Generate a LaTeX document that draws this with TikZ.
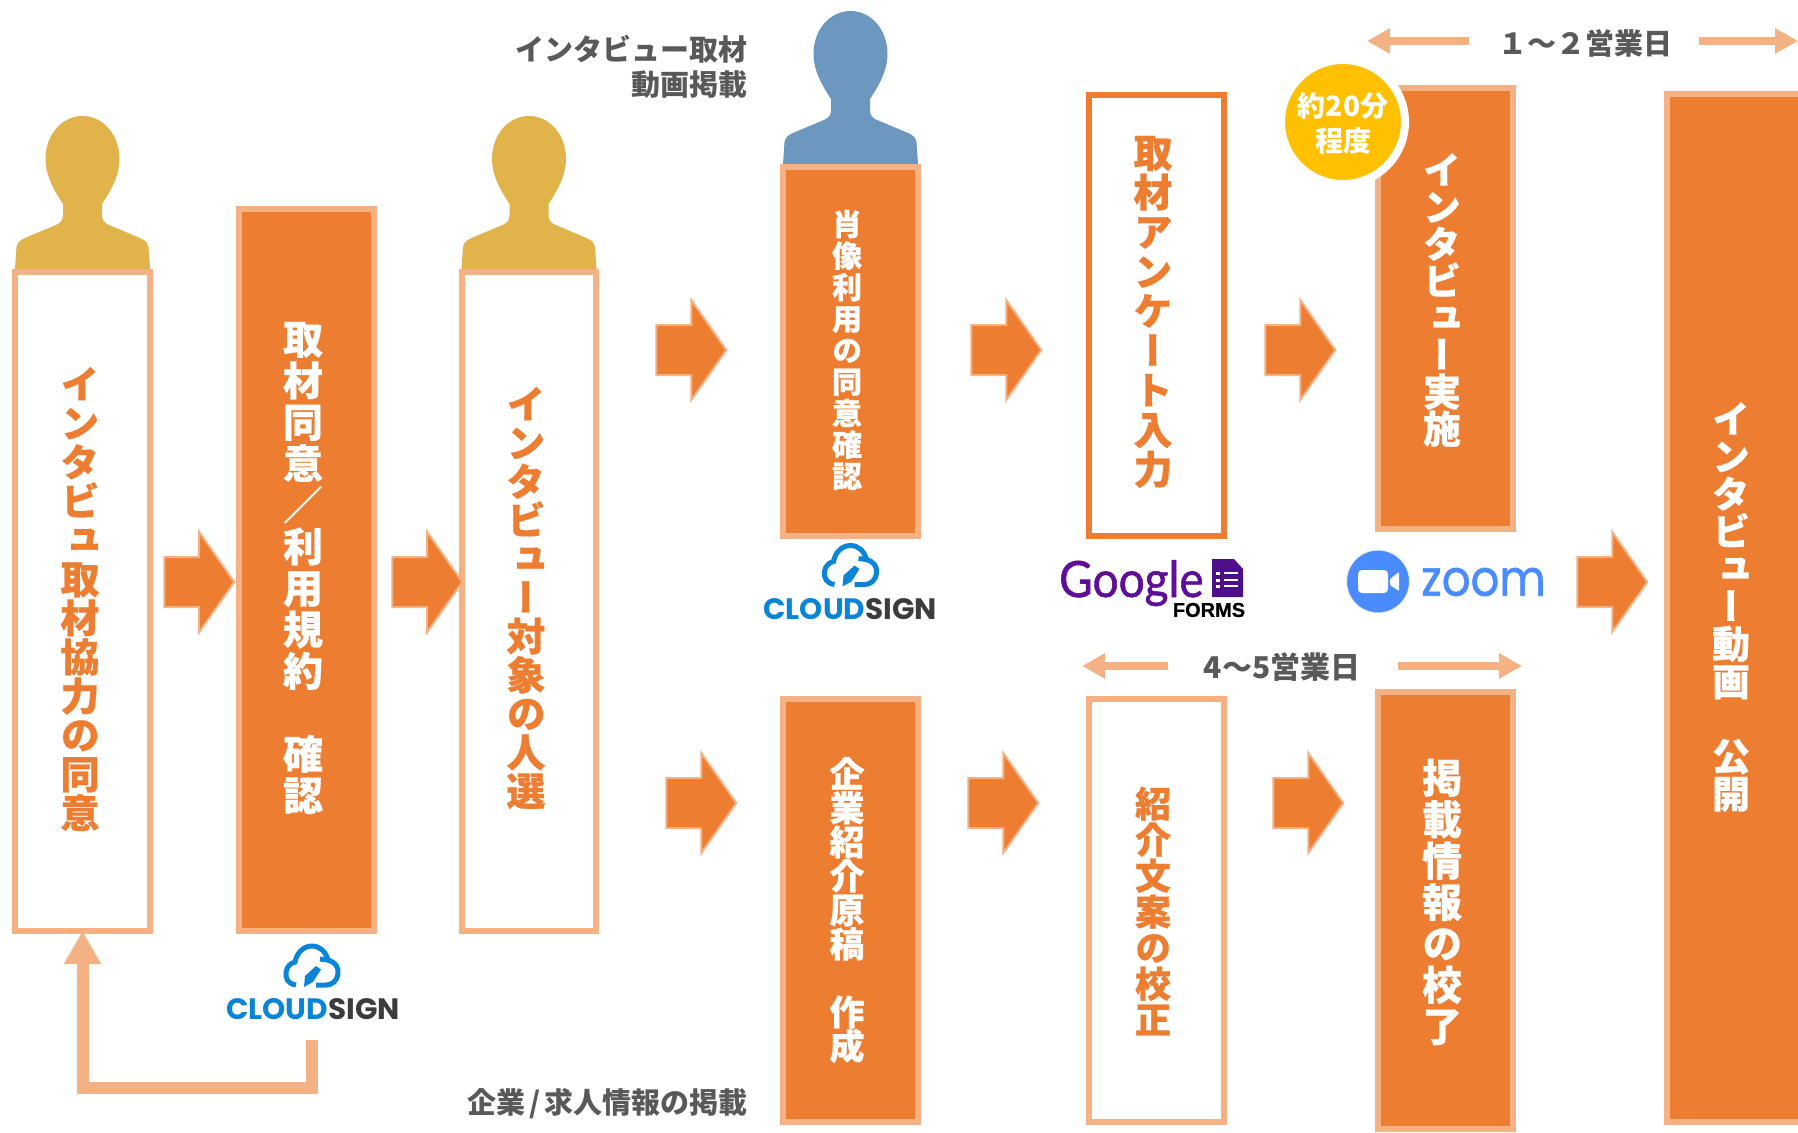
\documentclass[tikz,border=0pt]{standalone}
\usepackage{fontspec}
\usetikzlibrary{arrows.meta,shapes.arrows}
\newfontfamily\jp{Noto Sans CJK JP}
\newfontfamily\jpv[RawFeature=+vert,FakeBold=0.5]{Noto Sans CJK JP}
\newfontfamily\popp{Poppins}
\newfontfamily\zoomf[FakeBold=1.2]{Poppins}
\newfontfamily\lat[FakeBold=1.2]{Lato}
\newfontfamily\lib[FakeBold=0.8]{Liberation Sans}
\definecolor{org}{HTML}{ED7D31}
\definecolor{lite}{HTML}{F4B183}
\definecolor{gold}{HTML}{E0B44B}
\definecolor{steel}{HTML}{6C97BF}
\definecolor{ink}{HTML}{595959}
\definecolor{amber}{HTML}{FFC000}
\definecolor{csblue}{HTML}{0A84D6}
\definecolor{csgray}{HTML}{3C3C3C}
\definecolor{zblue}{HTML}{4A8CFF}
\definecolor{gpurple}{HTML}{5F0F96}
\definecolor{fpurple}{HTML}{4E1088}
\newlength\vw
\def\slashch{{\jp\bfseries ／}}
\def\vcharsloop#1{\ifx#1\relax\else\hbox to \vw{\hss#1\hss}\expandafter\vcharsloop\fi}
\newcommand\vtext[3]{\fontsize{#1}{#2}\selectfont\vw=#1pt\vbox{\baselineskip=#2pt\lineskiplimit=-\maxdimen\vcharsloop#3\relax}}
\newcommand\personfig[3]{\fill[#3,shift={(#1,#2)}] (-67.5,0) -- (-66,-22) .. controls (-65,-27) and (-62,-29) .. (-57.5,-31) -- (-25.5,-44.5) .. controls (-21,-46.5) and (-19.5,-50) .. (-19.5,-54) -- (-19.5,-65) .. controls (-28,-78) and (-37,-93) .. (-37,-110) .. controls (-37,-135) and (-20,-153) .. (0,-153) .. controls (20,-153) and (37,-135) .. (37,-110) .. controls (37,-93) and (28,-78) .. (19.5,-65) -- (19.5,-54) .. controls (19.5,-50) and (21,-46.5) .. (25.5,-44.5) -- (57.5,-31) .. controls (62,-29) and (65,-27) .. (66,-22) -- (67.5,0) -- cycle;}
\newcommand\cloudlogo[2]{\begin{scope}[shift={(#1,#2)}]
\draw[csblue,line width=5,line cap=butt] (-16,20) .. controls (-24,19) and (-27,13) .. (-26,7) .. controls (-25,1) and (-21,-2) .. (-17,-3) .. controls (-15,-13) and (-8,-19) .. (0,-19) .. controls (8,-19) and (14,-13) .. (16,-5) -- (8,-6);
\draw[csblue,line width=5] (16,-5) .. controls (23,-3) and (27,2) .. (26,9) .. controls (25,16) and (20,20) .. (14,20) -- (4,20);
\fill[csblue] (4,1) -- (9,4.5) -- (1,17) -- (-8,22) -- (-7,11) -- cycle;
\end{scope}}
\tikzset{
 litebox/.style={rectangle,draw=lite,line width=6,fill=white,inner sep=0,outer sep=0},
 orgline/.style={rectangle,draw=org,line width=6,fill=white,inner sep=0,outer sep=0},
 solidbox/.style={rectangle,draw=lite,line width=6,fill=org,inner sep=0,outer sep=0},
 vw/.style={text=white,font=\jpv\bfseries,inner sep=0},
 vo/.style={text=org,font=\jpv\bfseries,inner sep=0},
 blockarr/.style={single arrow,draw=lite,line width=2,fill=org,minimum height=70,minimum width=98,single arrow head extend=25,single arrow tip angle=110,inner xsep=0,inner ysep=24,outer sep=0},
 span/.style={draw=lite,line width=8,-{Triangle[length=23,width=24]}},
 feedback/.style={draw=lite,line width=12,line join=miter,-{Triangle[length=33,width=35]}},
 lab/.style={text=ink,font=\jp\bfseries,inner sep=0},
}
\begin{document}
\begin{tikzpicture}[x=1pt,y=-1pt]
\useasboundingbox (0,0) rectangle (1798,1132);
\clip (0,0) rectangle (1798,1132);
\fill[white] (0,0) rectangle (1798,1132);
% persons
\personfig{82.5}{269}{gold}
\personfig{529}{269}{gold}
\personfig{850.5}{164}{steel}
% boxes
\node[litebox,minimum width=135,minimum height=659] (b1) at (82.5,601.5) {};
\node[solidbox,minimum width=135,minimum height=722] (b2) at (306.5,570) {};
\node[litebox,minimum width=134,minimum height=659] (b3) at (529,601.5) {};
\node[solidbox,minimum width=135,minimum height=369] (b4) at (850.5,351.5) {};
\node[orgline,minimum width=135,minimum height=441] (b5) at (1156.5,315.5) {};
\node[solidbox,minimum width=135,minimum height=441] (b6) at (1445.5,308.5) {};
\node[solidbox,minimum width=135,minimum height=1028] (b7) at (1734.5,608) {};
\node[solidbox,minimum width=135,minimum height=423] (b8) at (850.5,910.5) {};
\node[litebox,minimum width=135,minimum height=423] (b9) at (1156.5,910.5) {};
\node[solidbox,minimum width=135,minimum height=437] (b10) at (1445.5,910.5) {};
% column texts
\node[vo] (t1) at (80,599) {\vtext{39}{39}{インタビュ取材協力の同意}};
\node[vw] (t2) at (303,568) {\vtext{40}{41.5}{取材同意\slashch 利用規約　確認}};
\node[vo] (t3) at (526,598) {\vtext{39}{38.7}{インタビュー対象の人選}};
\node[vw] (t4) at (847,350) {\vtext{30}{31.5}{肖像利用の同意確認}};
\node[vo] (t5) at (1153,312) {\vtext{39}{39.6}{取材アンケート入力}};
\node[vw] (t6) at (1442,300) {\vtext{38}{37}{インタビュー実施}};
\node[vw] (t7) at (1731,607) {\vtext{38}{37.5}{インタビュー動画　公開}};
\node[vw] (t8) at (847,910) {\vtext{35}{34}{企業紹介原稿　作成}};
\node[vo] (t9) at (1153,911) {\vtext{36}{36}{紹介文案の校正}};
\node[vw] (t10) at (1442,902) {\vtext{40}{41.4}{掲載情報の校了}};
% block arrows
\node[blockarr] (a1) at (190.5,582) {};
\node[blockarr] (a2) at (418.5,582) {};
\node[blockarr] (a3) at (682.5,350) {};
\node[blockarr] (a4) at (997.5,350) {};
\node[blockarr] (a5) at (1291.5,350) {};
\node[blockarr] (a6) at (1603.5,582) {};
\node[blockarr] (a7) at (692.5,803) {};
\node[blockarr] (a8) at (994.5,803) {};
\node[blockarr] (a9) at (1299.5,803) {};
% feedback
\coordinate (fb0) at (312,1040);
\coordinate (fb1) at (312,1088);
\coordinate (fb2) at (b1.south |- fb1);
\draw[feedback] (fb0) -- (fb1) -- (fb2) -- (b1.south);
% span labels
\node[lab,anchor=east,align=right,font=\jp\bfseries\fontsize{29}{35}\selectfont] (l1) at (748,67) {インタビュー取材\\動画掲載};
\node[lab,anchor=east,font=\jp\bfseries\fontsize{29}{34}\selectfont] (l2) at (748,1104) {企業\kern4pt/\kern4pt 求人情報の掲載};
\node[lab,font=\jp\bfseries\fontsize{29}{34}\selectfont] (l3) at (1585,43) {１～２営業日};
\node[lab,font=\jp\bfseries\fontsize{30}{34}\selectfont] (l4) at (1282,667) {4～5営業日};
\coordinate (s1a) at (1469,41); \coordinate (s1b) at (1367,41);
\coordinate (s2a) at (1699,41); \coordinate (s2b) at (1798,41);
\coordinate (s3a) at (1168,666); \coordinate (s3b) at (1082,666);
\coordinate (s4a) at (1398,666); \coordinate (s4b) at (1522,666);
\draw[span] (s1a) -- (s1b);
\draw[span] (s2a) -- (s2b);
\draw[span] (s3a) -- (s3b);
\draw[span] (s4a) -- (s4b);
% badge
\node[circle,draw=white,line width=8,fill=amber,minimum size=124,inner sep=0,outer sep=0] (badge) at (1343,122) {};
\node[text=white,align=center,inner sep=0,font=\jp\bfseries\fontsize{28}{35}\selectfont] (badget) at (1343,123) {約20分\\程度};
% cloudsign logos
\cloudlogo{312}{965}
\node[inner sep=0,font=\popp\bfseries] (cs1) at (313,1009.5) {\fontsize{29.5}{30}\selectfont\textcolor{csblue}{CLOUD}\textcolor{csgray}{\popp SIGN}};
\cloudlogo{850.5}{564.5}
\node[inner sep=0,font=\popp\bfseries] (cs2) at (850,609.5) {\fontsize{29.5}{30}\selectfont\textcolor{csblue}{CLOUD}\textcolor{csgray}{\popp SIGN}};
% google forms
\node[inner sep=0,font=\lat,text=gpurple,xscale=0.92,transform shape,anchor=base west] (gf) at (1059,597) {\fontsize{50}{50}\selectfont Google};
\fill[fpurple] (1212,559) -- (1234,559) -- (1243,569) -- (1243,597) -- (1212,597) -- cycle;
\foreach \yy in {573,580,586}{
 \fill[white] (1216,\yy-1.5) rectangle (1220,\yy+1.5);
 \fill[white] (1224,\yy-1.3) rectangle (1238,\yy+1.3);
}
\node[inner sep=0,font=\lib\bfseries,text=black] (fm) at (1209,610) {\fontsize{20}{20}\selectfont FORMS};
% zoom
\fill[zblue,draw=black!6,line width=1] (1378,581.5) circle (31.5);
\fill[white,rounded corners=4] (1358,570) rectangle (1388,593);
\fill[white,rounded corners=1] (1390,579) -- (1399,572) -- (1399,591) -- (1390,585) -- cycle;
\node[inner sep=0,font=\zoomf,text=zblue,xscale=0.9,transform shape] (zm) at (1483.5,582) {\fontsize{50}{50}\selectfont zoom};
\end{tikzpicture}
\end{document}
